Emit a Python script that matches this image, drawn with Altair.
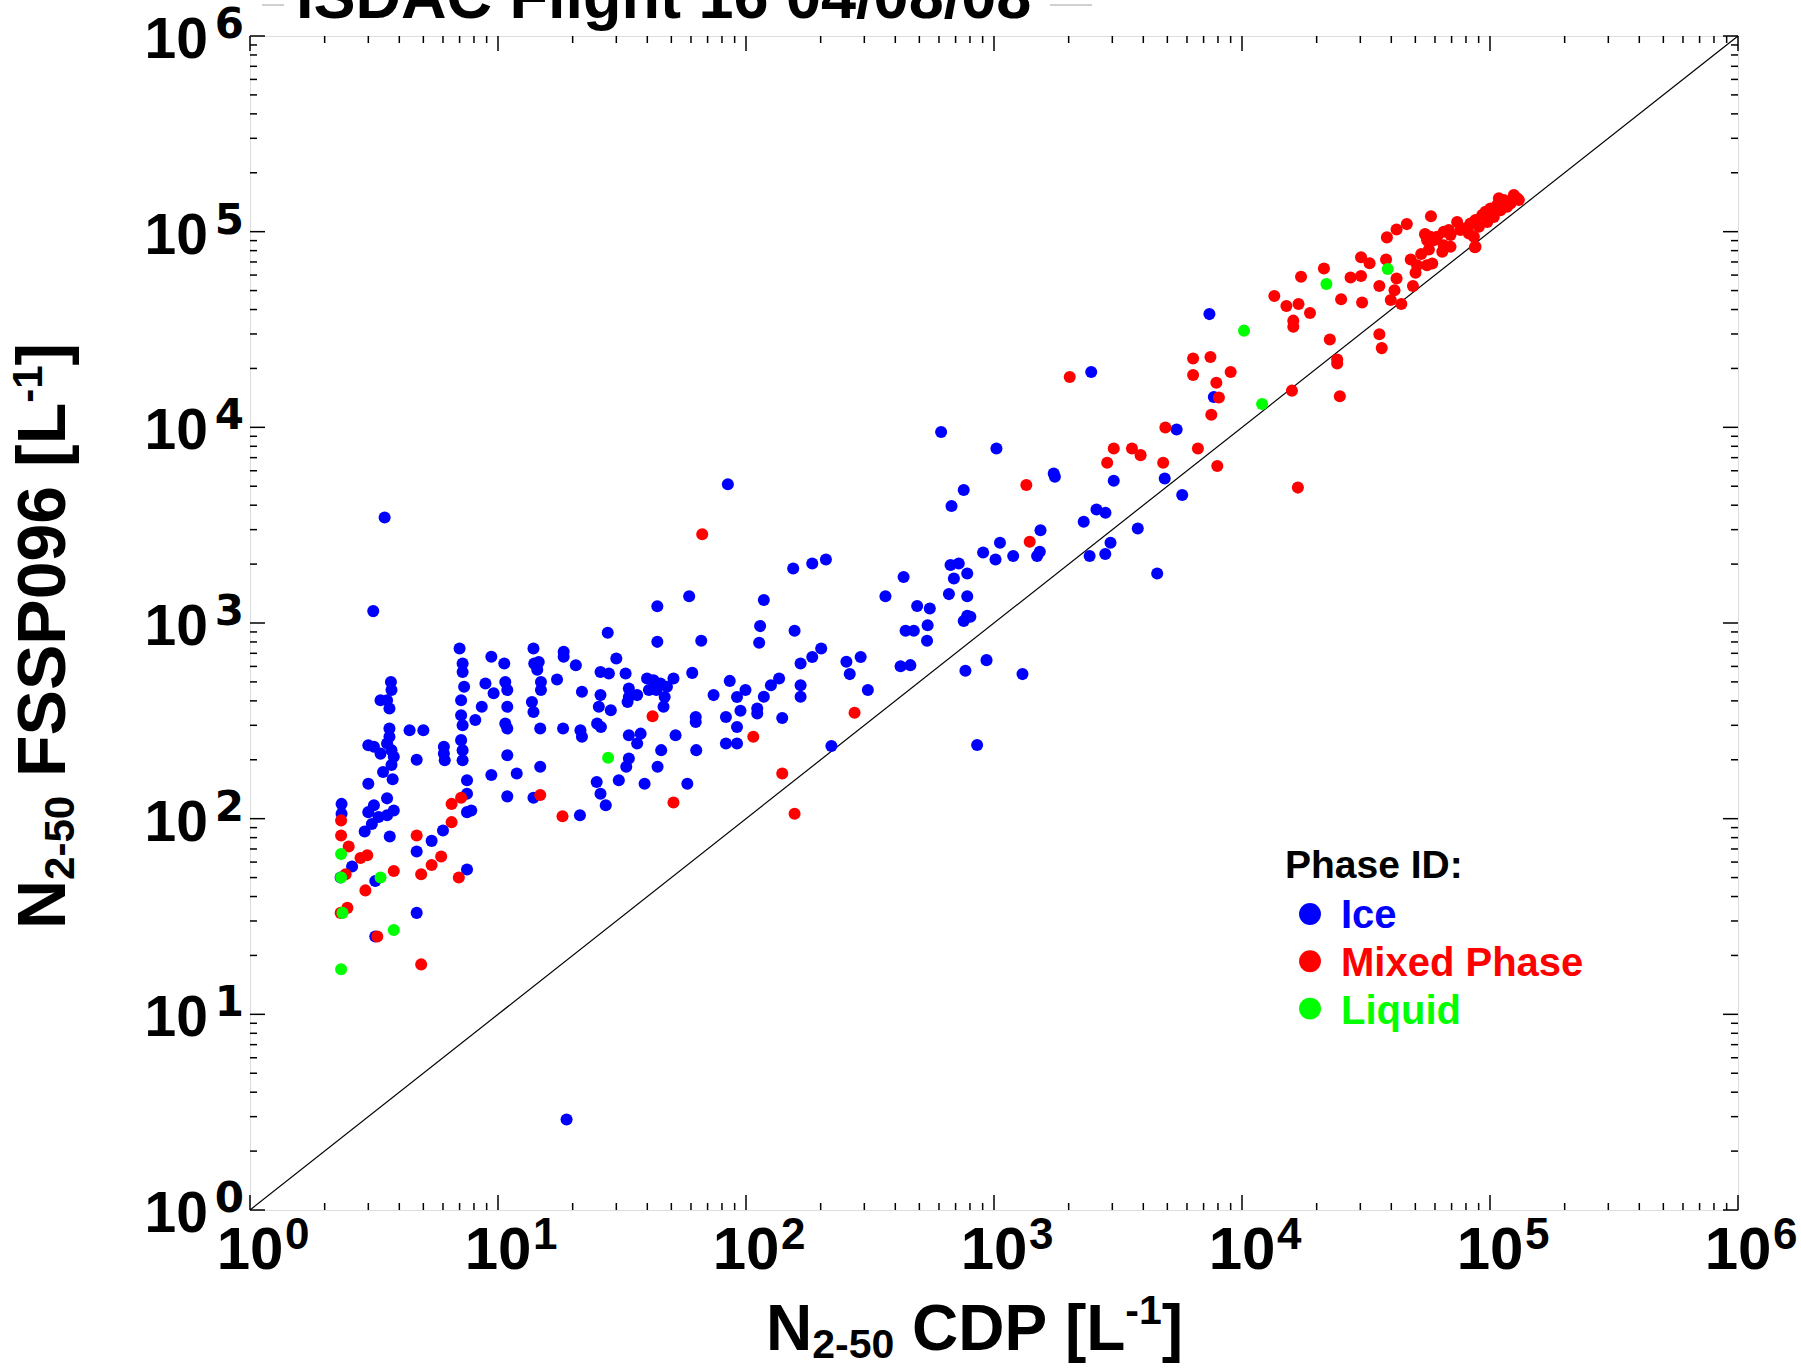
import altair as alt
import pandas as pd

# ---------------- data ----------------
phases = ["Ice", "Mixed Phase", "Liquid"]
phase_colors = ["#0000ff", "#ff0000", "#00ff00"]

ice_points = [
    (3.14, 1150),
    (7.0, 741), (7.2, 621), (7.2, 562), (7.3, 472), (7.1, 403), (7.1, 338), (7.2, 300), (7.1, 252),
    (7.2, 224), (7.2, 199), (8.1, 319), (7.5, 157), (7.5, 134), (7.5, 108), (7.8, 110), (7.5, 55),
    (9.4, 672), (10.6, 621), (8.9, 491), (9.6, 437), (10.7, 500), (10.9, 454), (10.9, 373), (8.6, 373),
    (10.7, 306), (10.9, 289), (10.9, 211), (9.4, 167), (11.9, 170), (10.9, 130),
    (13.9, 741), (14.0, 620), (14.6, 632), (14.4, 577), (14.9, 500), (14.9, 454), (13.7, 395), (13.9, 351),
    (14.8, 289), (14.8, 184), (13.9, 128),
    (17.3, 514), (18.4, 713), (18.4, 672), (20.6, 608), (21.8, 445), (18.3, 289), (21.5, 283), (21.8, 262),
    (21.4, 104),
    (25.9, 562), (28.0, 552), (27.7, 891), (30.0, 658), (25.9, 428), (25.5, 373), (28.5, 358), (25.1, 306),
    (26.0, 294),
    (32.7, 552), (33.7, 462), (33.7, 419), (33.3, 395),
    (39.9, 520), (42.4, 510), (45.2, 491), (48.0, 472), (51.0, 520), (40.6, 454), (43.5, 454), (47.0, 419),
    (36.4, 428), (46.5, 373),
    (43.9, 1219), (43.9, 801), (66.0, 811), (60.7, 556), (74.0, 428), (86.0, 506), (92.0, 419), (83.0, 331),
    (92.0, 294), (83.0, 242), (92.0, 242), (62.7, 331), (62.7, 312), (52.0, 267), (37.6, 272), (36.4, 242),
    (33.7, 267), (45.5, 224), (63.0, 224), (33.7, 203), (32.9, 184), (44.0, 184), (30.7, 157), (25.0, 154),
    (25.9, 134), (27.2, 117), (39.0, 151), (58.0, 151),
    (4.7, 200), (4.4, 283), (5.0, 283),
    (3.7, 500), (3.72, 454), (3.36, 403), (3.65, 366), (3.57, 403),
    (3.65, 289), (3.65, 262), (3.57, 242), (3.72, 224), (3.8, 207), (3.72, 188),
    (3.0, 237), (3.16, 233), (3.36, 215),
    (3.44, 173), (3.76, 159), (3.0, 151), (3.57, 127), (3.16, 117), (3.0, 108), (3.3, 102), (3.57, 104),
    (3.8, 110), (3.1, 94), (2.9, 86), (3.66, 81),
    (2.34, 119), (2.34, 106), (2.58, 57), (2.32, 50), (3.2, 48), (4.7, 68), (5.4, 77), (6.0, 87),
    (4.7, 33), (3.2, 25),
    (6.05, 233), (6.05, 215), (6.1, 199),
    (3.49, 3460), (84.5, 5120), (59.0, 1370),
    (18.9, 2.9),
    (612, 9460), (1023, 7800), (755, 4780), (674, 3960), (1741, 5810), (1760, 5590), (3040, 5330),
    (2466, 19200), (5450, 9750), (7700, 14300), (4880, 5480), (5740, 4510), (2300, 3290), (2590, 3800),
    (2815, 3660), (1540, 2980), (1057, 2570), (904, 2290), (1014, 2110), (1195, 2200), (1492, 2200),
    (1530, 2310), (3800, 3040), (2950, 2570), (2430, 2200), (2810, 2250), (4550, 1790),
    (668, 1980), (721, 2015), (689, 1690), (780, 1790), (432, 1720), (365, 1370), (658, 1405), (780, 1370),
    (755, 1025), (803, 1076), (780, 1090), (490, 1220), (551, 1186), (440, 912), (475, 912), (540, 975),
    (537, 811), (420, 601), (460, 609), (767, 570), (933, 646), (1303, 548), (855, 238), (221, 235),
    (310, 454), (254, 634), (262, 548), (290, 671), (155, 1900), (185, 2015), (210, 2110), (118, 1310),
    (114, 964), (113, 792), (157, 912), (166, 621), (185, 671), (201, 741), (166, 481), (166, 420),
    (136, 520), (126, 481), (118, 420), (99.5, 454), (95, 356), (111, 366), (111, 345), (140, 327),
    (7390, 37900),
]

mixed_points = [
    (2.33, 98), (2.33, 82), (2.5, 72), (2.79, 63), (2.97, 65), (2.43, 52), (2.92, 43), (2.32, 33),
    (2.47, 35), (3.26, 25), (3.8, 54), (4.7, 82), (4.9, 52), (5.4, 58), (5.9, 64), (4.9, 18),
    (6.5, 96), (6.5, 119), (7.1, 128), (6.95, 50), (14.8, 132), (18.2, 103), (42, 334), (51, 121),
    (66.6, 2840),
    (2020, 18100), (1350, 5070), (1393, 2600), (2860, 6590), (3040, 7800), (3600, 7800), (3900, 7210),
    (4810, 6590), (4910, 9980), (6640, 7800), (7950, 6340), (6350, 22500), (7460, 22900), (6350, 18500),
    (7880, 16900), (8070, 14200), (7520, 11600), (9000, 19200), (274, 348), (107, 262), (140, 170),
    (157, 106), (16800, 4920),
    (13500, 46900), (15100, 41700), (16900, 42700), (18800, 38400), (16100, 35100), (16100, 32700),
    (17300, 58900), (21400, 64900), (25100, 45100), (30500, 43400), (22600, 28100), (24200, 22200),
    (24200, 21200), (15900, 15400), (24800, 14400), (35800, 29900), (36600, 25400), (30200, 74000),
    (32700, 68900), (27400, 58300), (30200, 59300), (38400, 93500), (42000, 102600), (46200, 109300),
    (57800, 120000), (38100, 72100), (35800, 52700), (42000, 57700), (41200, 50200), (39800, 44700),
    (43900, 42700), (48900, 52700), (47900, 72100), (52800, 76800), (55700, 67400), (56700, 81100),
    (54700, 97200), (86900, 83200), (50800, 67400), (58500, 68800), (50100, 61600),
    (54900, 96200), (57500, 94300), (61200, 94300), (65100, 100000), (68200, 102000), (69300, 96200),
    (73700, 112000), (76000, 102000), (79600, 104000), (83400, 110000), (87400, 114600), (93000, 121600),
    (95900, 126500), (100400, 131500), (106900, 136800), (108600, 148000), (113700, 145000),
    (119100, 142200), (124800, 153800), (128700, 148000), (130700, 145000), (69300, 83800),
    (64200, 78900), (65100, 85300), (59300, 90500), (55800, 90500), (86100, 94300), (87400, 83800),
    (82200, 98000), (90200, 106000), (97500, 112000), (103600, 119000), (110100, 128800),
    (117200, 134000), (121000, 139300),
]

liquid_points = [
    (2.33, 66), (2.33, 50), (2.36, 33), (3.36, 50), (3.8, 27), (2.33, 17), (27.8, 205),
    (12050, 13150), (10190, 31200), (21900, 54000), (38700, 64400),
]

decades = [1, 10, 100, 1000, 10000, 100000, 1000000]
exponents = ["0", "1", "2", "3", "4", "5", "6"]
minor_mult = [2, 3, 4, 5, 6, 7, 8, 9]

title_text = "ISDAC Flight 16 04/08/08"
legend_title = "Phase ID:"

# ---------------- layout ----------------
W, H = 1488, 1174
REG = "'Liberation Sans', Arial, sans-serif"
WIDE = "'DejaVu Sans', 'Liberation Sans', sans-serif"

# Arial/Liberation Sans Bold advance widths (em) used to chain sub/superscript pieces
ADV = {"N": .722, "2": .556, "-": .333, "5": .556, "0": .556, "C": .722, "D": .722, "P": .667,
       "[": .333, "L": .611, "1": .556, "]": .333, "F": .611, "S": .667, "9": .556, "6": .556}
SPACE = .278


def adv(s, size):
    return sum(ADV[c] for c in s) * size


rows = []
for rank, (name, pts) in enumerate(zip(phases, [ice_points, mixed_points, liquid_points])):
    for x, y in pts:
        rows.append({"cdp": x, "fssp": y, "phase": name, "rank": rank})
df = pd.DataFrame(rows)

xs = alt.Scale(type="log", domain=[1, 1e6], nice=False)
ys = alt.Scale(type="log", domain=[1, 1e6], nice=False)
X = lambda f: alt.X(f, scale=xs, axis=None)
Y = lambda f: alt.Y(f, scale=ys, axis=None)

layers = []

# 1:1 line
one_to_one = pd.DataFrame({"a": [1, 1e6]})
layers.append(alt.Chart(one_to_one).mark_line(color="black", strokeWidth=1.2).encode(
    x=X("a:Q"), y=Y("a:Q")))

# points
layers.append(alt.Chart(df).mark_circle(size=145, opacity=1).encode(
    x=X("cdp:Q"), y=Y("fssp:Q"),
    color=alt.Color("phase:N", scale=alt.Scale(domain=phases, range=phase_colors), legend=None),
    order=alt.Order("rank:Q")))

# ticks (inward, all four sides)
major = pd.DataFrame({"v": decades})
minor = pd.DataFrame({"v": [m * d for d in decades[:-1] for m in minor_mult]})
for tdf, ln in [(major, 15), (minor, 7)]:
    base = alt.Chart(tdf).mark_rule(color="black", strokeWidth=1.5)
    layers.append(base.encode(x=X("v:Q"), y=alt.value(H), y2=alt.value(H - ln)))
    layers.append(base.encode(x=X("v:Q"), y=alt.value(0), y2=alt.value(ln)))
    layers.append(base.encode(y=Y("v:Q"), x=alt.value(0), x2=alt.value(ln)))
    layers.append(base.encode(y=Y("v:Q"), x=alt.value(W - ln), x2=alt.value(W)))

# tick labels 10^n
lab = pd.DataFrame({"v": decades, "e": exponents})
layers.append(alt.Chart(lab).mark_text(font=REG, fontWeight="bold", fontSize=60, align="center",
                                       baseline="alphabetic", color="black").encode(
    x=X("v:Q"), y=alt.value(H + 59), text=alt.value("10")))
layers.append(alt.Chart(lab).mark_text(font=REG, fontWeight="bold", fontSize=44, align="left",
                                       baseline="alphabetic", dx=35, color="black").encode(
    x=X("v:Q"), y=alt.value(H + 39), text="e:N"))
layers.append(alt.Chart(lab).mark_text(font=REG, fontWeight="bold", fontSize=57, align="right",
                                       baseline="alphabetic", dy=22, color="black").encode(
    y=Y("v:Q"), x=alt.value(-42), text=alt.value("10")))
layers.append(alt.Chart(lab).mark_text(font=WIDE, fontWeight="bold", fontSize=42, align="right",
                                       baseline="alphabetic", dy=2, color="black").encode(
    y=Y("v:Q"), x=alt.value(-6), text="e:N"))


def txt(s, x, y, size, font=REG, angle=0, color="black", align="left"):
    d = pd.DataFrame({"t": [s]})
    kw = dict(font=font, fontWeight="bold", fontSize=size, align=align, baseline="alphabetic",
              color=color)
    if angle:
        kw["angle"] = angle
    return alt.Chart(d).mark_text(**kw).encode(x=alt.value(x), y=alt.value(y), text="t:N")


# x-axis title: N_{2-50} CDP [L^{-1}]  (text, size, shift, gap-before in spaces)
XT_MAIN, XT_SMALL = 64, 41
xpieces = [("N", XT_MAIN, 0, 0), ("2-50", XT_SMALL, 1, 0), ("CDP", XT_MAIN, 0, 1),
           ("[L", XT_MAIN, 0, 1), ("-1", XT_SMALL, -1, 0), ("]", XT_MAIN, 0, 0)]
pos = 516
for s, size, shift, gap in xpieces:
    pos += gap * SPACE * XT_MAIN
    yb = 1314 + (8 if shift > 0 else (-26 if shift < 0 else 0))
    layers.append(txt(s, pos, yb, size))
    pos += adv(s, size)

# y-axis title (rotated, reads bottom to top): N_{2-50} FSSP096 [L^{-1}]
YT_MAIN, YT_SMALL = 68, 42
ypieces = [("N", YT_MAIN, 0, 0), ("2-50", YT_SMALL, 1, 0), ("FSSP096", YT_MAIN, 0, 1),
           ("[L", YT_MAIN, 0, 1), ("-1", YT_SMALL, -1, 0), ("]", YT_MAIN, 0, 0)]
pos = 893
for s, size, shift, gap in ypieces:
    pos -= gap * SPACE * YT_MAIN
    xb = -185 + (9 if shift > 0 else (-23 if shift < 0 else 0))
    layers.append(txt(s, xb, pos, size, angle=270))
    pos -= adv(s, size)

# clipped title at the top, with its faint underline remnants
layers.append(txt(title_text, 46, -18, 63))
stub = pd.DataFrame({"t": [0]})
for a, b in [(12, 34), (800, 842)]:
    layers.append(alt.Chart(stub).mark_rule(color="#d0d0d0", strokeWidth=2).encode(
        x=alt.value(a), x2=alt.value(b), y=alt.value(-31)))

# legend
layers.append(txt(legend_title, 1035, 842, 39))
for i, (name, col) in enumerate(zip(phases, phase_colors)):
    d = pd.DataFrame({"t": [name]})
    layers.append(alt.Chart(d).mark_circle(size=480, opacity=1, color=col).encode(
        x=alt.value(1060), y=alt.value(878 + i * 47.3)))
    layers.append(txt(name, 1091, 892 + i * 48, 40, color=col))

chart = alt.layer(*layers).properties(
    width=W, height=H,
    autosize=alt.AutoSizeParams(type="none"),
    padding={"left": 250, "top": 36, "right": 63, "bottom": 159},
).configure_view(stroke="black", strokeWidth=2).configure(background="white")

chart.save("out.html", embed_options={"renderer": "svg", "actions": False})
